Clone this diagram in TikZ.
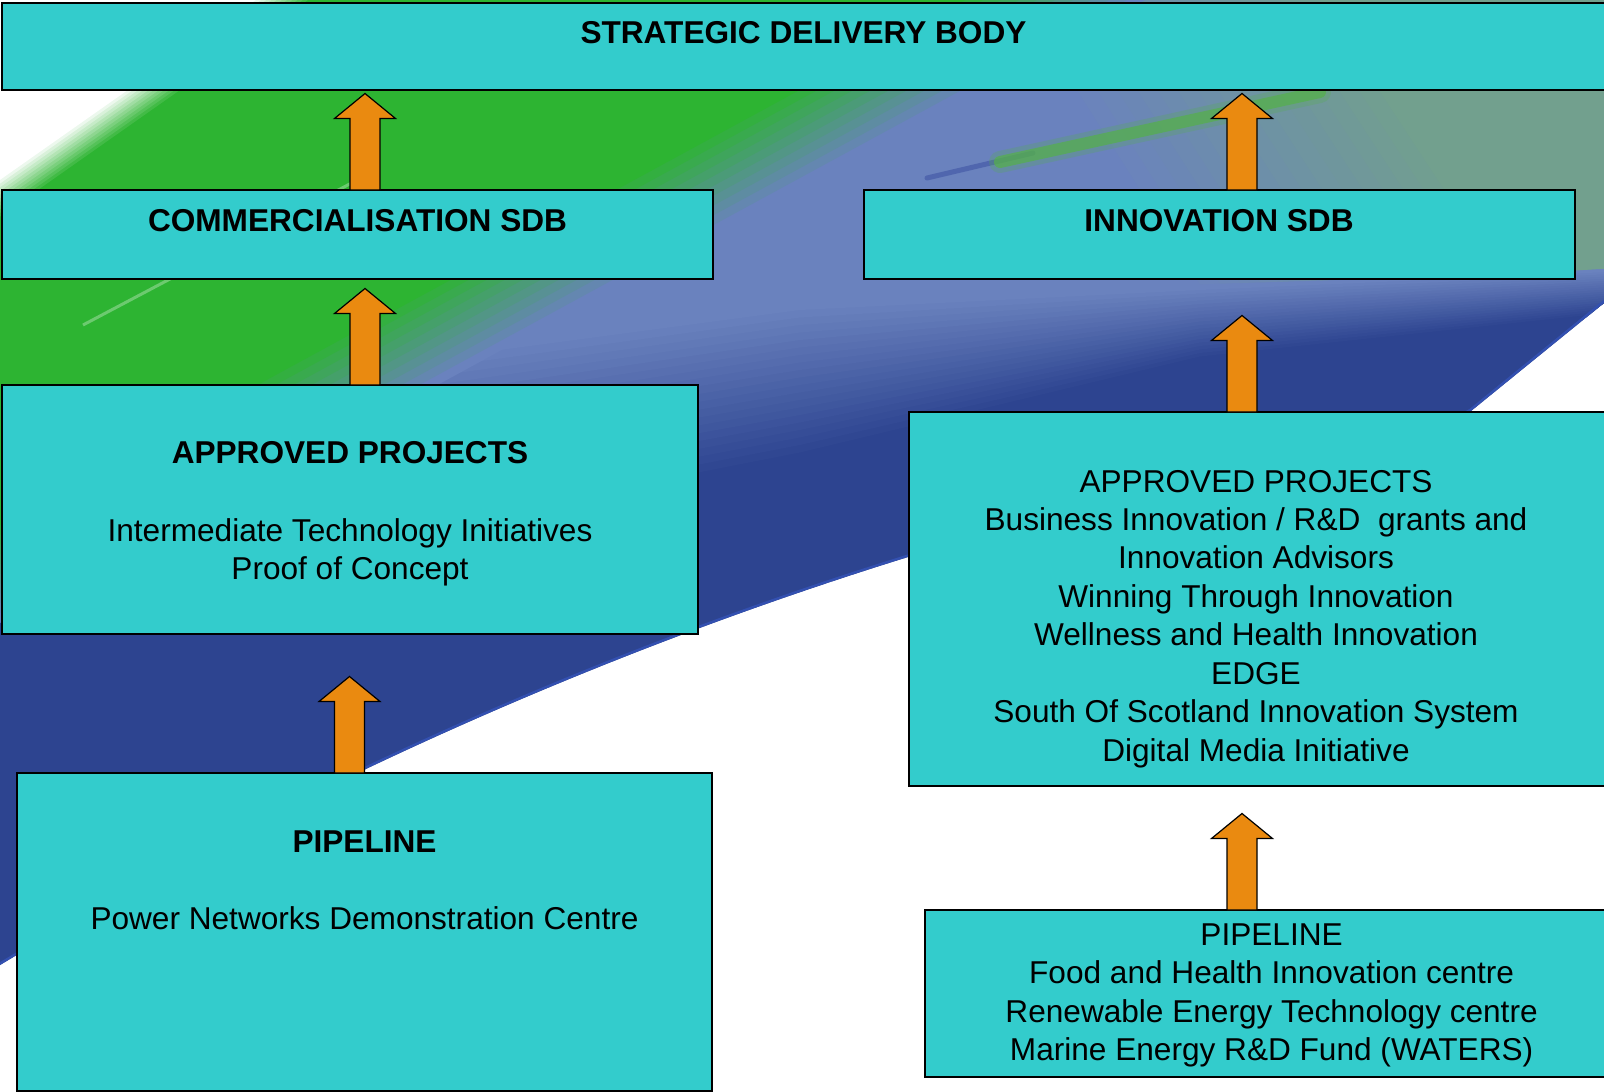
\documentclass[tikz,border=0pt]{standalone}
\usepackage{fontspec}
\setmainfont{Liberation Sans}
\usetikzlibrary{calc}
\definecolor{boxcol}{HTML}{33CCCC}
\definecolor{arrcol}{HTML}{EA8A10}
\definecolor{gcol}{HTML}{2DB432}
\definecolor{greycol}{HTML}{6A82BE}
\definecolor{tintcol}{HTML}{72A08E}
\definecolor{bluecol}{HTML}{2D4490}
\definecolor{rimcol}{HTML}{3350B0}
\definecolor{streakg}{HTML}{55B04A}
\definecolor{streakb}{HTML}{5066AE}
\newcommand\blockarr[1]{%
 \draw[blockarrow] ($(#1)+(-15,0)$) -- ($(#1)+(-15,-71.5)$) -- ($(#1)+(-30.5,-71.5)$) -- ($(#1)+(0,-96.5)$) -- ($(#1)+(30.5,-71.5)$) -- ($(#1)+(15,-71.5)$) -- ($(#1)+(15,0)$) -- cycle;}
\begin{document}
\begin{tikzpicture}[x=1pt,y=-1pt,
  box/.style={draw=black, line width=1.6pt, fill=boxcol, rectangle, inner sep=0pt, outer sep=0pt, anchor=north west},
  txt/.style={anchor=base, inner sep=0pt, font=\fontsize{31.6}{38.4}\selectfont},
  hd/.style={anchor=base, inner sep=0pt, font=\fontsize{31.6}{38.4}\selectfont\bfseries},
  blockarrow/.style={draw=black, line width=1.2pt, fill=arrcol, line join=miter}]

\useasboundingbox (0,0) rectangle (1604,1092);
\fill[white] (0,0) rectangle (1604,1092);

% background swoosh
\coordinate (D0a) at (-100,430); \coordinate (D0b) at (800,310); \coordinate (D0c) at (1200,290); \coordinate (D0d) at (1700,268);
\coordinate (D1a) at (-100,640); \coordinate (D1b) at (800,460); \coordinate (D1c) at (1200,360); \coordinate (D1d) at (1700,305);
\coordinate (K0a) at (1320,0); \coordinate (K0b) at (1500,275);
\coordinate (K1a) at (1000,0); \coordinate (K1b) at (1180,285);
\coordinate (G0a) at (1149,-100); \coordinate (G0b) at (-1057,1100);
\coordinate (G1a) at (1329,-100); \coordinate (G1b) at (-877,1100);
\coordinate (Ea) at (398,-100); \coordinate (Eb) at (-313,400);

\begin{scope}
\clip (-20,-20) -- (1610,-20) -- (1610,298) -- (1471,411) .. controls (1400,450) and (1200,470) .. (908,557) .. controls (608,650) and (300,785) .. (0,965) -- (-20,976) -- cycle;
\fill[bluecol] (-20,-20) rectangle (1700,1100);
\foreach \i in {20,19,...,0}{
  \pgfmathsetmacro\tv{\i/20}
  \pgfmathtruncatemacro\p{100-5*\i}
  \fill[greycol!\p!bluecol] ($(D0a)!\tv!(D1a)$) -- ($(D0b)!\tv!(D1b)$) -- ($(D0c)!\tv!(D1c)$) -- ($(D0d)!\tv!(D1d)$) -- (1700,-100) -- (-100,-100) -- cycle;
}
\foreach \i in {16,15,...,0}{
  \pgfmathsetmacro\tv{\i/16}
  \pgfmathtruncatemacro\p{100-6.25*\i}
  \fill[tintcol!\p!greycol] ($(K0a)!\tv!(K1a)$) -- ($(K0b)!\tv!(K1b)$) -- (1700,263) -- (1700,0) -- cycle;
}
\draw[line width=5pt, streakb, line cap=round] (927,178) -- (1033,153);
\draw[line width=22pt, color=streakg, opacity=.25, line cap=round] (1000,162) -- (1320,92);
\draw[line width=12pt, color=streakg, opacity=.7, line cap=round] (1000,162) -- (1320,92);
\foreach \i in {10,9,...,0}{
  \pgfmathsetmacro\tv{\i/10}
  \pgfmathtruncatemacro\p{100-10*\i}
  \fill[gcol!\p!greycol] ($(G0a)!\tv!(G1a)$) -- ($(G0b)!\tv!(G1b)$) -- (-1200,1100) -- (-1200,-100) -- cycle;
}
\foreach \k in {30,27,...,0}{
  \pgfmathtruncatemacro\w{100-\k*3}
  \fill[white!\w!gcol] ($(Ea)+(0.575*\k,0.818*\k)$) -- ($(Eb)+(0.575*\k,0.818*\k)$) -- (-400,400) -- (-400,-100) -- cycle;
}
\draw[white, opacity=.3, line width=3pt] (83,325) -- (361,178);
\draw[rimcol, line width=5pt] (1610,298) -- (1471,411) .. controls (1400,450) and (1200,470) .. (908,557) .. controls (608,650) and (300,785) .. (0,965) -- (-20,976);
\end{scope}

% boxes
\node[box, minimum width=1650pt, minimum height=87pt] (sdb) at (2,3) {};
\node[box, minimum width=711pt, minimum height=89pt] (cl) at (2,190) {};
\node[box, minimum width=711pt, minimum height=89pt] (ci) at (864,190) {};
\node[box, minimum width=696pt, minimum height=249pt] (al) at (2,385) {};
\node[box, minimum width=700pt, minimum height=374pt] (ar) at (909,412) {};
\node[box, minimum width=695pt, minimum height=318pt] (pl) at (17,773) {};
\node[box, minimum width=700pt, minimum height=167pt] (pr) at (925,910) {};

% arrows
\coordinate (a1) at ($(cl.north west)+(363,0)$);
\coordinate (a2) at ($(al.north west)+(363,0)$);
\coordinate (a3) at ($(pl.north west)+(332.5,0)$);
\coordinate (b1) at ($(ci.north west)+(378,0)$);
\coordinate (b2) at ($(ar.north west)+(333,0)$);
\coordinate (b3) at ($(pr.north west)+(317,0)$);
\blockarr{a1}\blockarr{a2}\blockarr{a3}
\blockarr{b1}\blockarr{b2}\blockarr{b3}

% texts
\node[hd] (t0) at (803.5,43.3) {STRATEGIC DELIVERY BODY};
\node[hd] (t1) at (357.5,231) {COMMERCIALISATION SDB};
\node[hd] (t2) at (1219,231) {INNOVATION SDB};
\node[hd] (t3) at (350,463.7) {APPROVED PROJECTS};
\node[txt] (t4) at (350,541) {Intermediate Technology Initiatives};
\node[txt] (t5) at (350,579) {Proof of Concept};
\node[hd] (t6) at (364.5,852.5) {PIPELINE};
\node[txt] (t7) at (364.5,929) {Power Networks Demonstration Centre};
\foreach \s [count=\i] in {APPROVED PROJECTS, Business Innovation / R\&D~ grants and, Innovation Advisors, Winning Through Innovation, Wellness and Health Innovation, EDGE, South Of Scotland Innovation System, Digital Media Initiative}
  \node[txt] (ra\i) at (1256,{492+38.45*(\i-1)}) {\s};
\foreach \s [count=\i] in {PIPELINE, Food and Health Innovation centre, Renewable Energy Technology centre, Marine Energy R\&D Fund (WATERS)}
  \node[txt] (rp\i) at (1271.6,{945+38.5*(\i-1)}) {\s};
\end{tikzpicture}
\end{document}
